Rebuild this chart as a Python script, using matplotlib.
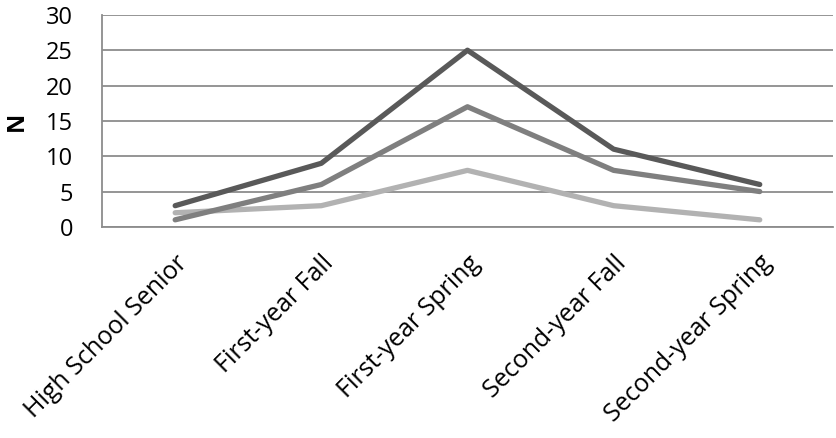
import matplotlib.pyplot as plt
import numpy as np

plt.rcParams['font.family'] = ['Open Sans', 'DejaVu Sans']

stages = ["High School Senior", "First-year Fall", "First-year Spring",
          "Second-year Fall", "Second-year Spring"]
series_dark = [3, 9, 25, 11, 6]
series_mid = [1, 6, 17, 8, 5]
series_light = [2, 3, 8, 3, 1]
yticks = [0, 5, 10, 15, 20, 25, 30]

fig = plt.figure(figsize=(8.37, 4.38), dpi=100)
ax = fig.add_axes([0.122, 0.482, 0.873, 0.484])

x = np.arange(len(stages))
ax.plot(x, series_light, color="#b2b2b2", lw=3.8, solid_capstyle="round", zorder=3)
ax.plot(x, series_mid, color="#7f7f7f", lw=3.8, solid_capstyle="round", zorder=4)
ax.plot(x, series_dark, color="#595959", lw=3.8, solid_capstyle="round", zorder=5)

ax.set_xlim(-0.5, len(stages) - 0.5)
ax.set_ylim(0, 30)
ax.set_yticks(yticks)
ax.set_yticklabels([str(v) for v in yticks], fontsize=17)
ax.set_xticks(x)
ax.set_xticklabels(stages, rotation=45, ha="right", rotation_mode="anchor", fontsize=18)
ax.tick_params(length=0)
ax.tick_params(axis="y", pad=21)
ax.tick_params(axis="x", pad=17)

ax.grid(axis="y", color="#8c8c8c", lw=1.3)
ax.set_axisbelow(True)
for s in ["top", "right"]:
    ax.spines[s].set_visible(False)
ax.spines["left"].set_color("#8c8c8c")
ax.spines["bottom"].set_color("#8c8c8c")
ax.spines["left"].set_linewidth(1.3)
ax.spines["bottom"].set_linewidth(1.3)

ax.set_ylabel("N", fontsize=17, fontweight="bold", labelpad=12)

fig.savefig("out.png", dpi=100)
